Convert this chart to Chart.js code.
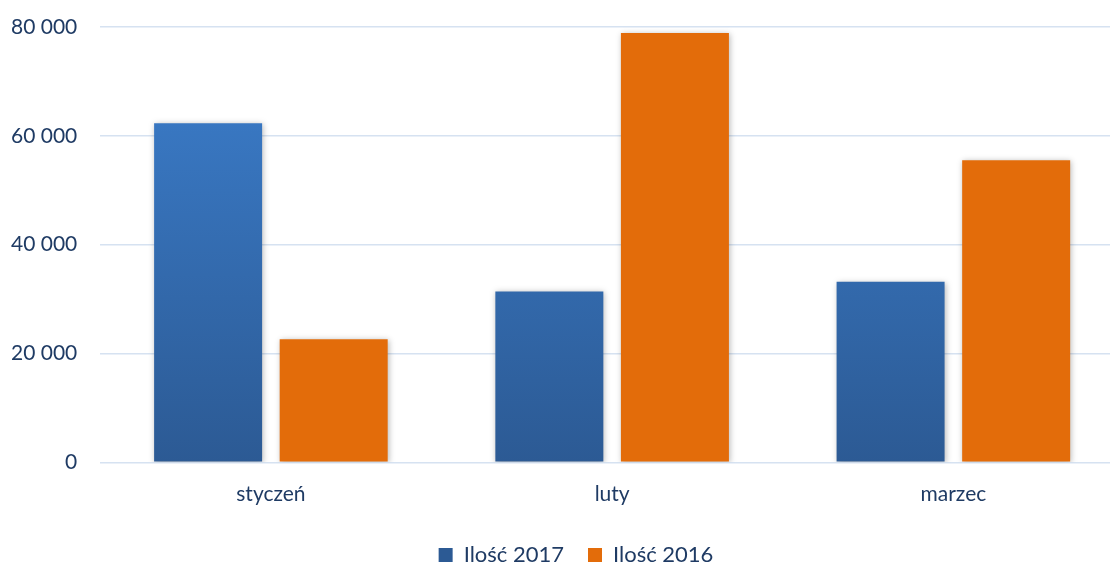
<!DOCTYPE html>
<html>
<head>
<meta charset="utf-8">
<script src="https://cdn.jsdelivr.net/npm/chart.js@4/dist/chart.umd.min.js"></script>
<style>
  html, body { margin: 0; padding: 0; background: #fff; overflow: hidden; }
  .wrap { width: 1124px; height: 565px; position: relative; }
</style>
</head>
<body>
<div class="wrap"><canvas id="chart"></canvas></div>
<script>
// data
const months = ["styczeń", "luty", "marzec"];
const qty2017 = [62300, 31400, 33200];
const qty2016 = [22600, 78900, 55500];
const yTicks = [0, 20000, 40000, 60000, 80000];

const textColor = "#1F3B64";
const gridColor = "#D6E2F1";
const font = { family: "Lato", size: 21 };

// space as thousands separator, like "80 000"
const fmt = (v) => String(v).replace(/\B(?=(\d{3})+(?!\d))/g, " ");

// vertical gradient for the blue bars
const blueGradient = (context) => {
  const area = context.chart.chartArea;
  if (!area) return "#3A7DCB";
  const g = context.chart.ctx.createLinearGradient(0, area.top, 0, area.bottom);
  g.addColorStop(0, "#3C7FCE");
  g.addColorStop(1, "#2C5A94");
  return g;
};

// soft shadow under the bars
const barShadow = {
  id: "barShadow",
  beforeDatasetsDraw(chart) {
    const ctx = chart.ctx;
    ctx.save();
    ctx.shadowColor = "rgba(0,0,0,0.28)";
    ctx.shadowBlur = 6;
    ctx.shadowOffsetX = 1;
    ctx.shadowOffsetY = 1;
  },
  afterDatasetsDraw(chart) {
    chart.ctx.restore();
  },
};

// nudge the legend a bit to the right
const legendShift = {
  id: "legendShift",
  afterLayout(chart) {
    chart.legend.left += 10;
    chart.legend.right += 10;
  },
};

let config = {
  type: "bar",
  data: {
    labels: months,
    datasets: [
      {
        label: "Ilość 2017",
        data: qty2017,
        backgroundColor: blueGradient,
        categoryPercentage: 0.736,
        barPercentage: 0.86,
      },
      {
        label: "Ilość 2016",
        data: qty2016,
        backgroundColor: "#E36C0A",
        categoryPercentage: 0.736,
        barPercentage: 0.86,
      },
    ],
  },
  options: {
    responsive: true,
    maintainAspectRatio: false,
    animation: false,
    layout: { padding: { top: 27, left: 8, right: 0, bottom: 0 } },
    scales: {
      x: {
        grid: { display: false },
        border: { display: false },
        ticks: { color: textColor, font: font, padding: 11.5 },
        afterFit: (axis) => {
          axis.height += 1.5;
        },
      },
      y: {
        min: 0,
        max: 80000,
        afterBuildTicks: (axis) => {
          axis.ticks = yTicks.map((v) => ({ value: v }));
        },
        // keep the tick padding from pushing the plot area in
        afterFit: (axis) => {
          axis.width -= 20;
          axis.paddingTop = 0;
          axis.paddingBottom = 0;
        },
        grid: { color: gridColor, lineWidth: 1.5, drawTicks: false },
        border: { display: false },
        ticks: {
          color: textColor,
          font: font,
          padding: 23,
          callback: (v) => fmt(v),
        },
      },
    },
    plugins: {
      legend: {
        position: "bottom",
        maxHeight: 45,
        labels: {
          color: textColor,
          font: { family: "Lato", size: 22 },
          boxWidth: 14,
          boxHeight: 14,
          padding: 24,
        },
      },
      tooltip: { enabled: false },
    },
  },
  plugins: [barShadow, legendShift],
};

let chart = new Chart(document.getElementById("chart"), config);
</script>
</body>
</html>
